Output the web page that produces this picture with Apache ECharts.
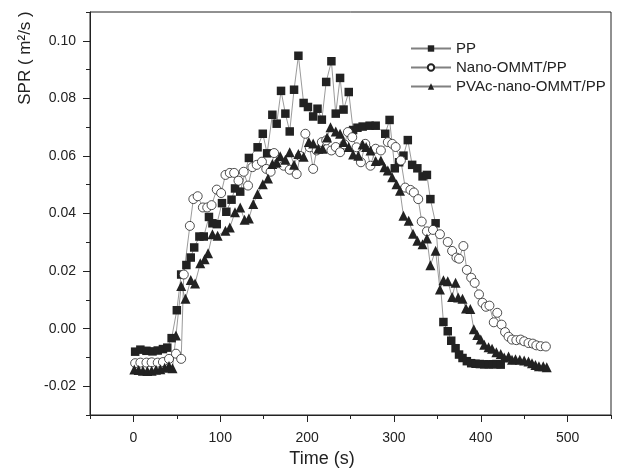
<!DOCTYPE html>
<html>
<head>
<meta charset="utf-8">
<script src="https://cdn.jsdelivr.net/npm/echarts@6/dist/echarts.min.js"></script>
<style>
  html, body { margin: 0; padding: 0; background: #fff; }
  #chart { width: 626px; height: 470px; }
</style>
</head>
<body>
<div id="chart"></div>
<script>
// [time (s), SPR (m2/s)]
const ppData = [
  [2, -0.0080], [8, -0.0073], [15, -0.0077], [22, -0.0079], [28, -0.0076], [34, -0.0071], [39, -0.0066],
  [44, -0.0033], [50, 0.0064], [55, 0.0188], [61, 0.0221], [66, 0.0247], [70, 0.0282], [76, 0.0320],
  [81, 0.0320], [87, 0.0388], [91, 0.0366], [96, 0.0363], [102, 0.0436], [107, 0.0406], [113, 0.0448],
  [117, 0.0487], [123, 0.0476], [133, 0.0593], [143, 0.0630], [149, 0.0677], [154, 0.0609], [160, 0.0743],
  [165, 0.0712], [170, 0.0826], [175, 0.0747], [180, 0.0685], [185, 0.0830], [190, 0.0948], [196, 0.0784],
  [201, 0.0770], [207, 0.0737], [212, 0.0764], [217, 0.0726], [222, 0.0857], [228, 0.0929], [233, 0.0747],
  [238, 0.0871], [242, 0.0761], [248, 0.0822], [253, 0.0690], [258, 0.0698], [264, 0.0702], [272, 0.0705],
  [279, 0.0705], [290, 0.0677], [295, 0.0725], [301, 0.0557], [306, 0.0578], [311, 0.0601], [316, 0.0655],
  [321, 0.0569], [327, 0.0557], [333, 0.0529], [338, 0.0534], [342, 0.0450], [348, 0.0366], [357, 0.0023],
  [362, -0.0009], [366, -0.0042], [371, -0.0068], [375, -0.0090], [379, -0.0102], [384, -0.0113],
  [389, -0.0120], [394, -0.0122], [399, -0.0123], [404, -0.0124], [409, -0.0124], [414, -0.0124],
  [418, -0.0123], [423, -0.0125]
];
const nanoData = [
  [2, -0.0120], [8, -0.0118], [15, -0.0118], [21, -0.0117], [28, -0.0118], [34, -0.0116], [41, -0.0105],
  [49, -0.0087], [55, -0.0105], [58, 0.0188], [65, 0.0357], [69, 0.0450], [74, 0.0460], [80, 0.0421],
  [85, 0.0421], [90, 0.0429], [96, 0.0483], [101, 0.0471], [106, 0.0534], [111, 0.0541], [116, 0.0541],
  [121, 0.0514], [127, 0.0545], [132, 0.0497], [137, 0.0561], [142, 0.0569], [148, 0.0580], [153, 0.0555],
  [158, 0.0545], [162, 0.0610], [167, 0.0575], [173, 0.0566], [180, 0.0552], [188, 0.0537], [192, 0.0600],
  [198, 0.0677], [203, 0.0630], [207, 0.0555], [211, 0.0619], [217, 0.0648], [222, 0.0654], [228, 0.0619],
  [233, 0.0631], [238, 0.0613], [243, 0.0640], [247, 0.0683], [252, 0.0665], [257, 0.0630], [262, 0.0578],
  [267, 0.0642], [273, 0.0566], [279, 0.0625], [285, 0.0619], [293, 0.0648], [298, 0.0642], [302, 0.0631],
  [308, 0.0584], [313, 0.0490], [319, 0.0482], [323, 0.0473], [328, 0.0450], [332, 0.0372], [338, 0.0338],
  [345, 0.0343], [353, 0.0328], [362, 0.0301], [367, 0.0270], [372, 0.0247], [375, 0.0243], [380, 0.0287],
  [384, 0.0204], [389, 0.0177], [393, 0.0159], [398, 0.0119], [402, 0.0090], [406, 0.0076], [410, 0.0080],
  [415, 0.0022], [419, 0.0055], [424, 0.0014], [428, -0.0012], [432, -0.0028], [436, -0.0038], [441, -0.0040],
  [446, -0.0038], [450, -0.0044], [455, -0.0050], [460, -0.0052], [464, -0.0058], [469, -0.0061], [475, -0.0062]
];
const pvacData = [
  [1, -0.0142], [6, -0.0144], [11, -0.0146], [16, -0.0147], [21, -0.0146], [26, -0.0143], [31, -0.0141],
  [36, -0.0136], [41, -0.0130], [45, -0.0138], [49, -0.0024], [55, 0.0148], [60, 0.0104], [66, 0.0169],
  [71, 0.0157], [77, 0.0227], [82, 0.0241], [86, 0.0262], [91, 0.0328], [97, 0.0323], [106, 0.0340],
  [111, 0.0351], [117, 0.0404], [123, 0.0421], [128, 0.0378], [133, 0.0383], [138, 0.0433], [143, 0.0468],
  [149, 0.0502], [155, 0.0522], [160, 0.0572], [165, 0.0578], [169, 0.0599], [175, 0.0587], [180, 0.0613],
  [185, 0.0569], [190, 0.0607], [196, 0.0597], [202, 0.0648], [207, 0.0643], [213, 0.0625], [218, 0.0625],
  [223, 0.0664], [227, 0.0700], [233, 0.0685], [238, 0.0677], [242, 0.0648], [248, 0.0631], [253, 0.0605],
  [259, 0.0601], [264, 0.0640], [268, 0.0631], [273, 0.0619], [279, 0.0582], [285, 0.0584], [289, 0.0561],
  [293, 0.0549], [298, 0.0526], [303, 0.0502], [307, 0.0479], [311, 0.0392], [317, 0.0375], [322, 0.0330],
  [327, 0.0305], [333, 0.0293], [338, 0.0313], [342, 0.0220], [348, 0.0271], [353, 0.0136], [357, 0.0168],
  [362, 0.0165], [367, 0.0110], [371, 0.0159], [374, 0.0108], [379, 0.0104], [383, 0.0070], [388, 0.0068],
  [392, -0.0002], [396, -0.0022], [400, -0.0038], [404, -0.0056], [409, -0.0065], [413, -0.0070],
  [418, -0.0082], [423, -0.0088], [427, -0.0100], [432, -0.0097], [436, -0.0108], [440, -0.0106],
  [445, -0.0108], [450, -0.0111], [455, -0.0114], [459, -0.0120], [463, -0.0126], [467, -0.0131],
  [472, -0.0131], [476, -0.0134]
];
const seriesNames = ['PP', 'Nano-OMMT/PP', 'PVAc-nano-OMMT/PP'];
const xMajorTicks = [0, 100, 200, 300, 400, 500];
const yMajorTicks = [-0.02, 0.00, 0.02, 0.04, 0.06, 0.08, 0.10];

const ink = '#222';
const lineGray = '#808080';
const font = 'Liberation Sans, Arial, sans-serif';

const chart = echarts.init(document.getElementById('chart'));
chart.setOption({
  animation: false,
  backgroundColor: '#fff',
  grid: {
    left: 90,
    right: 15,
    top: 12,
    bottom: 55,
    show: true,
    borderColor: ink,
    borderWidth: 1,
  },
  legend: {
    orient: 'vertical',
    left: 405,
    top: 36,
    itemWidth: 40,
    itemHeight: 8,
    itemGap: 4,
    data: seriesNames,
    textStyle: { fontFamily: font, fontSize: 15, color: ink },
  },
  graphic: [
    {
      type: 'text',
      x: 25,
      y: 58,
      rotation: Math.PI / 2,
      style: {
        text: 'SPR ( m²/s )',
        font: '17px ' + font,
        fill: ink,
        align: 'center',
        verticalAlign: 'middle',
      },
    },
    {
      type: 'text',
      x: 322,
      y: 459,
      style: {
        text: 'Time (s)',
        font: '18px ' + font,
        fill: ink,
        align: 'center',
        verticalAlign: 'middle',
      },
    },
  ],
  xAxis: [
    {
      type: 'value',
      min: -50,
      max: 550,
      interval: 50,
      axisLine: { show: true, onZero: false, lineStyle: { color: ink, width: 1 } },
      axisTick: { show: true, length: 4, lineStyle: { color: ink } },
      axisLabel: {
        margin: 16,
        fontFamily: font,
        fontSize: 14,
        color: ink,
        formatter(v) {
          return xMajorTicks.indexOf(v) >= 0 ? String(v) : '';
        },
      },
      splitLine: { show: false },
    },
    {
      type: 'value',
      position: 'bottom',
      min: -50,
      max: 550,
      axisLine: { show: false, onZero: false },
      axisTick: { show: true, length: 7, customValues: xMajorTicks, lineStyle: { color: ink } },
      axisLabel: { show: false },
      splitLine: { show: false },
    },
  ],
  yAxis: [
    {
      type: 'value',
      min: -0.03,
      max: 0.11,
      interval: 0.01,
      axisLine: { show: true, onZero: false, lineStyle: { color: ink, width: 1 } },
      axisTick: { show: true, length: 4, lineStyle: { color: ink } },
      axisLabel: {
        margin: 14,
        fontFamily: font,
        fontSize: 14,
        color: ink,
        formatter(v) {
          const k = Math.round(v * 100);
          return k % 2 === 0 ? (k / 100).toFixed(2) : '';
        },
      },
      splitLine: { show: false },
    },
    {
      type: 'value',
      position: 'left',
      min: -0.03,
      max: 0.11,
      axisLine: { show: false, onZero: false },
      axisTick: { show: true, length: 7, customValues: yMajorTicks, lineStyle: { color: ink } },
      axisLabel: { show: false },
      splitLine: { show: false },
    },
  ],
  series: [
    {
      name: seriesNames[0],
      type: 'line',
      data: ppData,
      symbol: 'rect',
      symbolSize: 8.5,
      lineStyle: { color: lineGray, width: 0.8 },
      itemStyle: { color: ink },
    },
    {
      name: seriesNames[1],
      type: 'line',
      data: nanoData,
      symbol: 'circle',
      symbolSize: 9,
      lineStyle: { color: lineGray, width: 0.8 },
      itemStyle: { color: '#fff', borderColor: ink, borderWidth: 0.8 },
    },
    {
      name: seriesNames[2],
      type: 'line',
      data: pvacData,
      symbol: 'triangle',
      symbolSize: 10,
      lineStyle: { color: lineGray, width: 0.8 },
      itemStyle: { color: ink },
    },
  ],
});
</script>
</body>
</html>
